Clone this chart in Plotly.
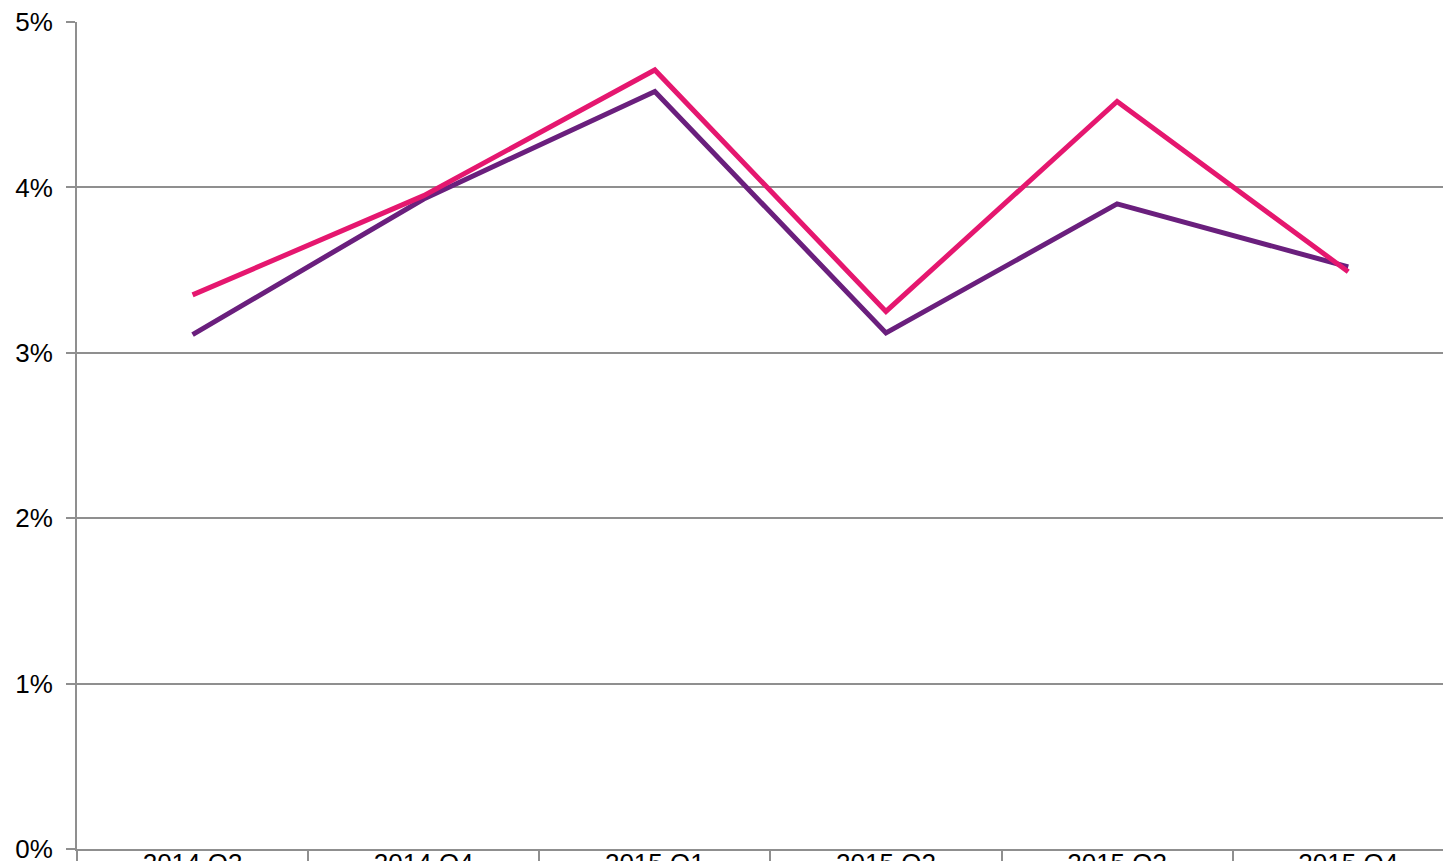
import plotly.graph_objects as go

categories = ["2014 Q3", "2014 Q4", "2015 Q1", "2015 Q2", "2015 Q3", "2015 Q4"]
series_magenta = [3.35, 3.95, 4.71, 3.25, 4.52, 3.49]
series_purple = [3.11, 3.93, 4.58, 3.12, 3.90, 3.52]
y_ticks = [0, 1, 2, 3, 4, 5]
y_tick_labels = ["0%", "1%", "2%", "3%", "4%", "5%"]

GRID = "#8f8f8f"
FONT = dict(family="Liberation Sans, Arial, sans-serif", size=26, color="#000000")

fig = go.Figure()
fig.add_trace(go.Scatter(x=categories, y=series_purple, mode="lines",
                         line=dict(color="#6A1F7D", width=5), showlegend=False))
fig.add_trace(go.Scatter(x=categories, y=series_magenta, mode="lines",
                         line=dict(color="#E5176F", width=5), showlegend=False))

fig.update_layout(
    autosize=False,
    width=1443, height=861,
    margin=dict(l=77, r=0, t=22, b=12, pad=0),
    paper_bgcolor="white", plot_bgcolor="white",
    font=FONT,
    showlegend=False,
)
fig.update_xaxes(
    type="category",
    range=[-0.5, 5.41],
    showgrid=False,
    showline=True, linecolor=GRID, linewidth=2,
    ticks="outside", tickson="boundaries", ticklen=14, tickcolor=GRID, tickwidth=2,
    tickfont=FONT,
    ticklabelstandoff=-10,
    ticklabeloverflow="allow",
    automargin=False,
)
fig.update_yaxes(
    range=[0, 5],
    tickvals=y_ticks, ticktext=y_tick_labels,
    showgrid=True, gridcolor=GRID, gridwidth=2,
    zeroline=False,
    showline=True, linecolor=GRID, linewidth=2,
    ticks="outside", ticklen=9, tickcolor=GRID, tickwidth=2,
    tickfont=FONT,
    ticklabelstandoff=8,
    ticklabeloverflow="allow",
    automargin=False,
)

fig.write_html(
    "out.html",
    config={"responsive": False, "displayModeBar": False},
    post_script=(
        "document.body.style.margin='0';"
        "document.documentElement.style.overflow='hidden';"
        "document.body.style.overflow='hidden';"
    ),
)
